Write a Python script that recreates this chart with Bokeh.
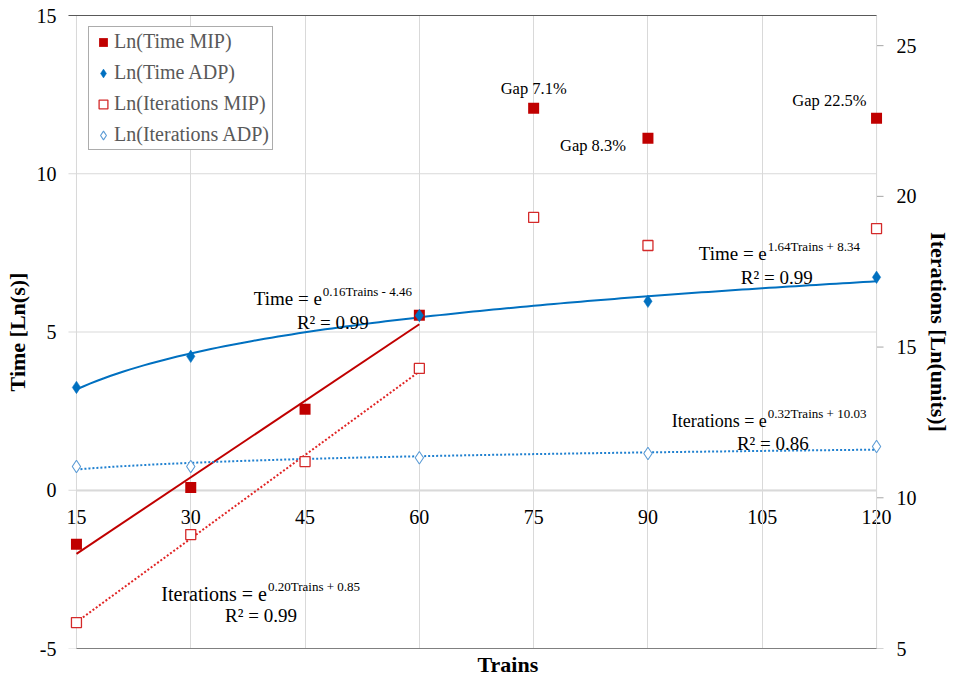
import numpy as np
from bokeh.plotting import figure
from bokeh.models import Range1d, LinearAxis, FixedTicker, Legend, LegendItem, Title
from bokeh.embed import file_html
from bokeh.resources import INLINE
from bokeh.core.properties import value

# ---------------- data ----------------
trains = [15, 30, 45, 60, 75, 90, 120]
ln_time_mip = [-1.71, 0.09, 2.56, 5.53, 12.07, 11.12, 11.75]
ln_iter_mip = [5.86, 8.78, 11.20, 14.29, 19.30, 18.37, 18.93]
trains_adp = [15, 30, 60, 90, 120]
ln_time_adp = [3.25, 4.23, 5.52, 5.97, 6.73]
ln_iter_adp = [11.04, 11.04, 11.33, 11.47, 11.70]
gap_labels = ["Gap 7.1%", "Gap 8.3%", "Gap 22.5%"]
x_ticks = [15, 30, 45, 60, 75, 90, 105, 120]
time_ticks = [-5, 0, 5, 10, 15]
iter_ticks = [5, 10, 15, 20, 25]
series_names = ["Ln(Time MIP)", "Ln(Time ADP)", "Ln(Iterations MIP)", "Ln(Iterations ADP)"]
eq_main = ["Time = e", "Time = e", "Iterations = e", "Iterations = e"]
eq_sup = ["0.16Trains  - 4.46", "1.64Trains  + 8.34", "0.20Trains  + 0.85", "0.32Trains  + 10.03"]
eq_r2 = ["R\u00b2 = 0.99", "R\u00b2 = 0.99", "R\u00b2 = 0.99", "R\u00b2 = 0.86"]

FONT = "Liberation Serif"
RED = "#C00000"
BLUE = "#0070C0"

# ---------------- geometry ----------------
W, H = 953, 684
FL, FR, FT, FB = 76, 878, 15, 648          # plot area of the chart
X0, X1 = 15, 120
Y0, Y1 = -5, 15
I0, I1 = 5, 26
PAD = 18                                    # extra frame room so edge markers are not clipped
KX = (FR - FL) / (X1 - X0)


def dx(px):
    return X0 + (px - FL) / KX


def dy(py):
    return Y1 - (py - FT) * (Y1 - Y0) / (FB - FT)


p = figure(width=W, height=H,
           x_range=Range1d(X0 - PAD / KX, X1 + PAD / KX), y_range=Range1d(Y0, Y1),
           output_backend="svg", toolbar_location=None,
           min_border_left=FL - PAD, min_border_right=W - FR - PAD, min_border_top=FT,
           min_border_bottom=H - FB, background_fill_color="white",
           border_fill_color="white", outline_line_color=None)
p.extra_y_ranges = {"iter": Range1d(I0, I1)}

# x axis crossing at y = 0
xax = p.below[0]
xax.ticker = FixedTicker(ticks=x_ticks)
xax.fixed_location = 0
xax.bounds = (X0, X1)
xax.level = "underlay"
xax.axis_line_color = "#d9d9d9"
xax.axis_line_width = 2
xax.major_tick_line_color = None
xax.minor_tick_line_color = None
xax.major_label_standoff = 14
xax.major_label_text_font = FONT
xax.major_label_text_font_size = "20px"
xax.major_label_text_color = "black"

# left axis: labels only (line and ticks drawn at x = 15 below)
yax = p.left[0]
yax.ticker = FixedTicker(ticks=time_ticks)
yax.major_label_overrides = {t: str(t) for t in time_ticks}
yax.axis_label = "Time [Ln(s)]"
yax.axis_line_color = None
yax.major_tick_line_color = None
yax.major_tick_out = 0
yax.major_tick_in = 0
yax.minor_tick_line_color = None
yax.minor_tick_out = 0
yax.major_label_standoff = 2
yax.major_label_text_font = FONT
yax.major_label_text_font_size = "20px"
yax.major_label_text_color = "black"
yax.axis_label_text_font = FONT
yax.axis_label_text_font_size = "22px"
yax.axis_label_text_font_style = "bold"
yax.axis_label_text_color = "black"
yax.axis_label_standoff = 4

p.xgrid.grid_line_color = "#d9d9d9"
p.ygrid.grid_line_color = None
# horizontal gridlines (with the outward tick stubs of the left axis)
p.segment(x0=[X0 - 8 / KX] * len(time_ticks), x1=[X1] * len(time_ticks), y0=time_ticks,
          y1=time_ticks, line_color="#d9d9d9", line_width=1, level="underlay")
# left axis line
p.segment(x0=[X0], x1=[X0], y0=[Y0], y1=[Y1], line_color="#d9d9d9", line_width=1,
          level="underlay")
# right axis line and its outward ticks
p.segment(x0=[X1], x1=[X1], y0=[I0], y1=[I1], line_color="#a6a6a6", line_width=1,
          level="underlay", y_range_name="iter")
p.segment(x0=[X1] * len(iter_ticks), x1=[X1 + 7 / KX] * len(iter_ticks), y0=iter_ticks,
          y1=iter_ticks, line_color="#a6a6a6", line_width=1, level="underlay",
          y_range_name="iter")

# bottom line
bax = LinearAxis(ticker=FixedTicker(ticks=[]), bounds=(X0, X1),
                 axis_line_color="#808080", major_tick_out=0, major_tick_in=0,
                 minor_tick_out=0, minor_tick_in=0, major_label_standoff=0)
p.add_layout(bax, "below")

# top line
tax = LinearAxis(ticker=FixedTicker(ticks=[]), bounds=(X0 - 8 / KX, X1),
                 axis_line_color="#595959",
                 major_tick_out=0, major_tick_in=0, minor_tick_out=0, minor_tick_in=0,
                 major_label_standoff=0)
p.add_layout(tax, "above")

# right axis: labels only
rax = LinearAxis(y_range_name="iter", ticker=FixedTicker(ticks=iter_ticks),
                 axis_label="Iterations [Ln(units)]",
                 axis_line_color=None, major_tick_line_color=None,
                 major_tick_out=0, major_tick_in=0, minor_tick_line_color=None,
                 minor_tick_out=0, major_label_standoff=2, major_label_text_font=FONT,
                 major_label_text_font_size="20px", major_label_text_color="black",
                 axis_label_standoff=6, axis_label_text_font=FONT,
                 axis_label_text_font_size="22px", axis_label_text_font_style="bold",
                 axis_label_text_color="black")
p.add_layout(rax, "right")

# "Trains" title below the plot
p.add_layout(Title(text="Trains", align="left", offset=477 - (FL - PAD), standoff=2,
                   text_font=FONT, text_font_size="22px", text_font_style="bold",
                   text_color="black"), "below")

# ---------------- trend lines ----------------
mx = np.array(trains[:4], dtype=float)
a1, b1 = np.polyfit(mx, ln_time_mip[:4], 1)
a2, b2 = np.polyfit(mx, ln_iter_mip[:4], 1)
ends = mx[[0, -1]]
p.line(ends, a1 * ends + b1, line_color=RED, line_width=2)
p.line(ends, a2 * ends + b2, line_color="#E02424", line_width=2, line_dash="2 2",
       y_range_name="iter")

ax_ = np.array(trains_adp, dtype=float)
c1, d1 = np.polyfit(np.log(ax_), ln_time_adp, 1)
c2, d2 = np.polyfit(np.log(ax_), ln_iter_adp, 1)
xs = np.linspace(ax_[0], ax_[-1], 120)
p.line(xs, c1 * np.log(xs) + d1, line_color=BLUE, line_width=2)
p.line(xs, c2 * np.log(xs) + d2, line_color="#1F80D0", line_width=2, line_dash="2 2",
       y_range_name="iter")

# ---------------- markers ----------------
r_iter_mip = p.scatter(trains, ln_iter_mip, marker="square", size=10,
                       fill_color="white", line_color="#D42A2A", line_width=1.3,
                       y_range_name="iter")
r_iter_adp = p.scatter(trains_adp, ln_iter_adp, marker="diamond", size=12.5,
                       fill_color="white", line_color="#5B9BD5",
                       line_width=1.1, y_range_name="iter")
r_time_mip = p.scatter(trains, ln_time_mip, marker="square", size=11,
                       fill_color=RED, line_color=RED, line_width=0)
r_time_adp = p.scatter(trains_adp, ln_time_adp, marker="diamond", size=12.5,
                       fill_color=BLUE, line_color=BLUE, line_width=0.5)

# ---------------- legend ----------------
legend = Legend(items=[LegendItem(label=series_names[0], renderers=[r_time_mip]),
                       LegendItem(label=series_names[1], renderers=[r_time_adp]),
                       LegendItem(label=series_names[2], renderers=[r_iter_mip]),
                       LegendItem(label=series_names[3], renderers=[r_iter_adp])],
                location=(88 - (FL - PAD), 648 - 29 - 121), padding=3, spacing=8,
                glyph_width=22, glyph_height=22, label_height=20, label_standoff=0,
                label_text_font=FONT, label_text_font_size="20px",
                label_text_color="#595959", border_line_color="#595959",
                border_line_width=1, background_fill_color="white",
                background_fill_alpha=1.0)
p.add_layout(legend, "center")

# ---------------- gap labels ----------------
gap_idx = [4, 5, 6]
gap_style = [("center", 0, -20), ("right", -22, 7), ("right", -10, -18)]
for k, i in enumerate(gap_idx):
    al, xo, yo = gap_style[k]
    p.text(x=[trains[i]], y=[ln_time_mip[i]], text=[gap_labels[k]],
           text_font=value(FONT), text_font_size="16.5px", text_color="black",
           text_align=al, text_baseline="middle", x_offset=xo, y_offset=yo)

# ---------------- equation labels ----------------
# (main right edge px, main baseline px, sup baseline px, r2 left px, r2 baseline px, main size)
eq_pos = [(322, 298, 291, 297, 322, "19px"),
          (768, 253, 246, 742, 277, "19px"),
          (267, 593, 586, 225, 615, "20px"),
          (768, 420, 413, 738, 443, "18px")]
for k in range(4):
    mr, mb, sb, rl, rb, ms = eq_pos[k]
    p.text(x=[dx(mr)], y=[dy(mb)], text=[eq_main[k]], text_font=value(FONT),
           text_font_size=ms, text_color="black", text_align="right",
           text_baseline="alphabetic")
    p.text(x=[dx(mr + 1)], y=[dy(sb)], text=[eq_sup[k]], text_font=value(FONT),
           text_font_size="13px", text_color="black", text_align="left",
           text_baseline="alphabetic")
    p.text(x=[dx(rl)], y=[dy(rb)], text=[eq_r2[k]], text_font=value(FONT),
           text_font_size="19px", text_color="black", text_align="left",
           text_baseline="alphabetic")

open("out.html", "w").write(file_html(p, INLINE))
